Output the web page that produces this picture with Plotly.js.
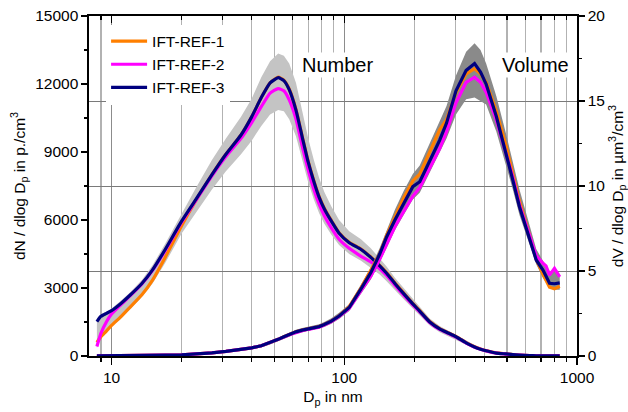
<!DOCTYPE html>
<html>
<head>
<meta charset="utf-8">
<script src="https://cdn.plot.ly/plotly-3.0.1.min.js"></script>
<style>html,body{margin:0;padding:0;background:#fff;}#chart{width:628px;height:412px;}</style>
</head>
<body>
<div id="chart"></div>
<script>
// Particle diameter grid (nm)
var diam = [8.65, 9, 9.5, 10, 11, 12, 13.5, 15, 17, 20, 23, 27, 31, 36, 40, 44, 48, 52, 55, 58, 62, 66, 70, 74, 78, 82, 88, 95, 105, 118, 130, 142, 152, 165, 180, 197, 211, 233, 257, 275, 302, 334, 363, 385, 407, 450, 497, 530, 566, 625, 668, 714, 736, 762, 800, 843];

// Number size distributions (p./cm3)
var numRef1 = [600, 850, 1100, 1350, 1750, 2150, 2700, 3350, 4350, 5750, 6850, 8000, 8900, 9750, 10550, 11400, 12050, 12300, 12170, 11780, 10880, 9680, 8580, 7730, 7030, 6530, 5980, 5440, 5020, 4720, 4370, 4000, 3680, 3230, 2780, 2320, 2000, 1520, 1210, 1060, 860, 590, 410, 310, 235, 135, 90, 60, 40, 20, 12, 8, 6, 5, 4, 3];
var numRef2 = [420, 1000, 1500, 1850, 2280, 2650, 3180, 3780, 4650, 5900, 6850, 7950, 8800, 9600, 10300, 11000, 11600, 11800, 11700, 11300, 10450, 9250, 8200, 7350, 6700, 6200, 5650, 5150, 4750, 4400, 4150, 3850, 3550, 3120, 2680, 2250, 1950, 1480, 1170, 1030, 830, 570, 390, 300, 225, 125, 85, 55, 35, 18, 11, 7, 5, 4, 3, 2];
var numRef3 = [1520, 1750, 1880, 2000, 2330, 2680, 3200, 3800, 4700, 5950, 6900, 8000, 8900, 9750, 10550, 11400, 12050, 12280, 12150, 11750, 10850, 9650, 8550, 7700, 7000, 6500, 5950, 5420, 5000, 4700, 4350, 3980, 3650, 3200, 2750, 2300, 1980, 1500, 1200, 1050, 850, 580, 400, 300, 230, 130, 90, 60, 40, 20, 12, 8, 6, 5, 4, 3];
var numLow = [350, 800, 1050, 1300, 1650, 2050, 2600, 3200, 4100, 5400, 6300, 7350, 8150, 8900, 9500, 10150, 10650, 10850, 10800, 10450, 9700, 8600, 7650, 6900, 6300, 5850, 5350, 4900, 4500, 4200, 3900, 3600, 3300, 2900, 2500, 2100, 1800, 1350, 1050, 900, 720, 500, 330, 250, 180, 100, 60, 40, 25, 10, 5, 3, 2, 1, 1, 0];
var numHigh = [1650, 1850, 1950, 2100, 2450, 2800, 3350, 4000, 4950, 6300, 7400, 8650, 9600, 10550, 11350, 12300, 13000, 13350, 13250, 12900, 12050, 10800, 9600, 8650, 7850, 7250, 6600, 6000, 5500, 5150, 4750, 4300, 3950, 3450, 3000, 2500, 2150, 1650, 1320, 1150, 950, 680, 480, 380, 290, 180, 120, 80, 55, 30, 20, 13, 10, 8, 6, 5];

// Volume size distributions (um3/cm3)
var volRef1 = [0.01, 0.01, 0.01, 0.01, 0.02, 0.02, 0.03, 0.04, 0.05, 0.07, 0.11, 0.18, 0.27, 0.38, 0.48, 0.6, 0.78, 0.98, 1.13, 1.28, 1.42, 1.52, 1.6, 1.67, 1.73, 1.85, 2.05, 2.35, 2.9, 4.0, 5.0, 6.0, 7.1, 8.2, 9.3, 10.3, 10.7, 12.0, 13.3, 13.9, 15.5, 16.6, 16.9, 16.6, 16.1, 14.4, 12.3, 10.7, 9.1, 7.1, 5.7, 4.8, 4.4, 4.05, 3.95, 4.1];
var volRef2 = [0.01, 0.01, 0.01, 0.01, 0.02, 0.02, 0.03, 0.04, 0.05, 0.07, 0.11, 0.18, 0.27, 0.38, 0.48, 0.6, 0.78, 0.97, 1.11, 1.25, 1.39, 1.49, 1.57, 1.64, 1.7, 1.82, 2.02, 2.32, 2.8, 3.85, 4.7, 5.7, 6.6, 7.6, 8.5, 9.4, 9.9, 11.1, 12.2, 13.2, 14.9, 16.1, 16.4, 16.1, 15.5, 13.9, 11.9, 10.5, 8.9, 7.1, 5.9, 5.45, 5.3, 4.76, 5.16, 4.66];
var volRef3 = [0.01, 0.01, 0.01, 0.01, 0.02, 0.02, 0.03, 0.04, 0.05, 0.07, 0.11, 0.18, 0.27, 0.38, 0.48, 0.6, 0.78, 0.98, 1.13, 1.28, 1.42, 1.52, 1.6, 1.67, 1.73, 1.85, 2.05, 2.35, 2.85, 3.95, 4.9, 6.0, 7.0, 8.0, 9.0, 9.96, 10.25, 11.5, 12.7, 13.7, 15.6, 16.8, 17.2, 16.7, 16.0, 14.1, 11.9, 10.35, 8.78, 6.85, 5.65, 5.05, 4.7, 4.28, 4.25, 4.3];
var volLow = [0.0, 0.0, 0.0, 0.0, 0.0, 0.0, 0.0, 0.0, 0.0, 0.02, 0.06, 0.12, 0.2, 0.3, 0.4, 0.5, 0.68, 0.88, 1.0, 1.15, 1.3, 1.4, 1.48, 1.55, 1.6, 1.7, 1.9, 2.18, 2.65, 3.65, 4.5, 5.5, 6.4, 7.4, 8.3, 9.2, 9.6, 10.8, 11.9, 12.8, 14.2, 15.1, 15.2, 15.0, 14.8, 13.2, 11.2, 9.8, 8.3, 6.5, 5.4, 4.6, 4.3, 4.0, 3.9, 3.9];
var volHigh = [0.05, 0.05, 0.05, 0.05, 0.06, 0.07, 0.08, 0.09, 0.1, 0.12, 0.16, 0.24, 0.34, 0.46, 0.57, 0.7, 0.88, 1.1, 1.25, 1.4, 1.55, 1.65, 1.72, 1.8, 1.87, 2.0, 2.22, 2.55, 3.05, 4.2, 5.2, 6.35, 7.4, 8.6, 9.7, 10.7, 11.2, 12.5, 13.8, 14.7, 16.5, 17.9, 18.4, 18.0, 17.2, 15.3, 13.0, 11.4, 9.8, 7.7, 6.3, 5.6, 5.3, 5.0, 5.0, 4.8];

var seriesNames = ['IFT-REF-1', 'IFT-REF-2', 'IFT-REF-3'];
var seriesColors = ['#ff7f00', '#ff00ff', '#00007f'];

var xTickVals = [10, 100, 1000];
var xMinorVals = [9, 20, 30, 40, 50, 60, 70, 80, 90, 200, 300, 400, 500, 600, 700, 800, 900];
var yTickVals = [0, 3000, 6000, 9000, 12000, 15000];
var y2TickVals = [0, 5, 10, 15, 20];

var numSeries = [numRef1, numRef2, numRef3];
var volSeries = [volRef1, volRef2, volRef3];

var traces = [];
// number band
traces.push({x: diam, y: numLow, mode: 'lines', line: {width: 0, color: '#c0c0c0'}, showlegend: false, hoverinfo: 'skip', xaxis: 'x', yaxis: 'y'});
traces.push({x: diam, y: numHigh, mode: 'lines', line: {width: 0, color: '#c0c0c0'}, fill: 'tonexty', fillcolor: '#c4c4c4', showlegend: false, hoverinfo: 'skip', xaxis: 'x', yaxis: 'y'});
for (var i = 0; i < 3; i++) {
  traces.push({x: diam, y: numSeries[i], mode: 'lines', name: seriesNames[i],
    line: {color: seriesColors[i], width: 3.2, shape: 'spline', smoothing: 0.5}, xaxis: 'x', yaxis: 'y'});
}
// volume band
traces.push({x: diam, y: volLow, mode: 'lines', line: {width: 0, color: '#888'}, showlegend: false, hoverinfo: 'skip', xaxis: 'x2', yaxis: 'y2'});
traces.push({x: diam, y: volHigh, mode: 'lines', line: {width: 0, color: '#888'}, fill: 'tonexty', fillcolor: '#8a8a8a', showlegend: false, hoverinfo: 'skip', xaxis: 'x2', yaxis: 'y2'});
for (var j = 0; j < 3; j++) {
  traces.push({x: diam, y: volSeries[j], mode: 'lines', name: seriesNames[j], showlegend: false,
    line: {color: seriesColors[j], width: 3.2}, xaxis: 'x2', yaxis: 'y2'});
}

var fontFam = 'Liberation Sans, Arial, sans-serif';
var xr = [Math.log10(8), 3];

var layout = {
  width: 628, height: 412,
  margin: {l: 89, r: 51, t: 16, b: 56, pad: 0},
  paper_bgcolor: '#fff', plot_bgcolor: '#fff',
  font: {family: fontFam, size: 15.5, color: '#000'},
  showlegend: true,
  legend: {x: 0.035, y: 0.975, xanchor: 'left', yanchor: 'top', bgcolor: '#fff', borderwidth: 0,
    font: {size: 15.5, family: fontFam}, traceorder: 'normal', tracegroupgap: 0, itemwidth: 36},
  xaxis: {type: 'log', range: xr, tickvals: xTickVals, ticktext: ['10', '100', '1000'],
    ticks: 'outside', ticklen: 7, tickwidth: 1.3, tickcolor: '#000',
    showline: true, linecolor: '#000', linewidth: 1.6, mirror: false,
    showgrid: true, gridcolor: '#8c8c8c', gridwidth: 1,
    minor: {tickvals: xMinorVals, ticks: 'outside', ticklen: 4, tickwidth: 1.2, tickcolor: '#000', showgrid: true, gridcolor: '#b2b2b2', gridwidth: 1.4},
    zeroline: false,
    title: {text: 'D<sub>p</sub> in nm', font: {size: 15.5}, standoff: 6}},
  xaxis2: {type: 'log', range: xr, overlaying: 'x', side: 'top', tickvals: xTickVals,
    showticklabels: false, ticks: 'inside', ticklen: 7, tickwidth: 1.3, tickcolor: '#000',
    showline: true, linecolor: '#000', linewidth: 1.6, showgrid: false,
    minor: {tickvals: xMinorVals, ticks: 'inside', ticklen: 4, tickwidth: 1.2, tickcolor: '#000', showgrid: false},
    zeroline: false},
  yaxis: {range: [0, 15000], tickvals: yTickVals, ticktext: yTickVals.map(String),
    ticks: 'outside', ticklen: 6, tickwidth: 1.3, tickcolor: '#000',
    showline: true, linecolor: '#000', linewidth: 1.6, showgrid: false, zeroline: false,
    minor: {dtick: 1500, ticks: 'outside', ticklen: 3, tickwidth: 1.2, tickcolor: '#000', showgrid: false},
    title: {text: 'dN / dlog D<sub>p</sub> in p./cm<sup>3</sup>', font: {size: 15.5}, standoff: 6}},
  yaxis2: {range: [0, 20], overlaying: 'y', side: 'right', tickvals: y2TickVals, ticktext: y2TickVals.map(String),
    ticks: 'outside', ticklen: 6, tickwidth: 1.3, tickcolor: '#000',
    showline: true, linecolor: '#000', linewidth: 1.6,
    showgrid: true, gridcolor: '#7a7a7a', gridwidth: 1, zeroline: false,
    minor: {dtick: 2.5, ticks: 'outside', ticklen: 3, tickwidth: 1.2, tickcolor: '#000', showgrid: false},
    title: {text: 'dV / dlog D<sub>p</sub> in µm<sup>3</sup>/cm<sup>3</sup>', font: {size: 15.5}, standoff: 16}},
  annotations: [
    {xref: 'paper', yref: 'paper', x: 0.51, y: 0.855, text: 'Number', showarrow: false, xanchor: 'center', yanchor: 'middle', font: {size: 20, family: fontFam}, bgcolor: '#fff'},
    {xref: 'paper', yref: 'paper', x: 0.915, y: 0.855, text: 'Volume', showarrow: false, xanchor: 'center', yanchor: 'middle', font: {size: 20, family: fontFam}, bgcolor: '#fff'}
  ]
};

Plotly.newPlot('chart', traces, layout, {displayModeBar: false, staticPlot: true});
</script>
</body>
</html>
